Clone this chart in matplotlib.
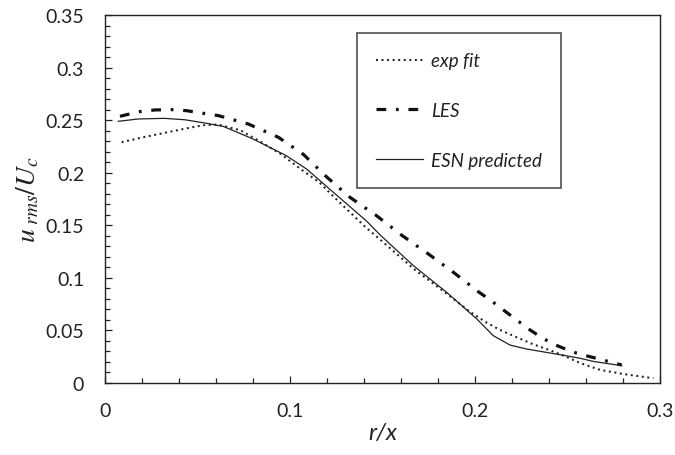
import matplotlib
matplotlib.use("Agg")
import matplotlib.pyplot as plt
from matplotlib.ticker import MultipleLocator

# ---- data ----
exp_x = [0.009, 0.018, 0.027, 0.036, 0.045, 0.053, 0.061, 0.073, 0.084, 0.095,
         0.105, 0.116, 0.124, 0.141, 0.149, 0.167, 0.185, 0.197, 0.206, 0.2135,
         0.2225, 0.2315, 0.2405, 0.2495, 0.2568, 0.2676, 0.280, 0.2964]
exp_y = [0.229, 0.2327, 0.236, 0.2393, 0.2425, 0.2452, 0.2458, 0.2405, 0.2295, 0.2178,
         0.2045, 0.1905, 0.1765, 0.148, 0.136, 0.1084, 0.0846, 0.0680, 0.0577, 0.0505,
         0.0435, 0.0368, 0.0312, 0.0248, 0.0190, 0.0125, 0.0086, 0.0045]

les_x = [0.0081, 0.018, 0.027, 0.036, 0.0441, 0.0532, 0.0613, 0.0775, 0.0937, 0.1072,
         0.1198, 0.1324, 0.1468, 0.1604, 0.1748, 0.1883, 0.2018, 0.209, 0.2153, 0.2225,
         0.2297, 0.2369, 0.2442, 0.2523, 0.2586, 0.2685, 0.2793]
les_y = [0.2536, 0.258, 0.2597, 0.2600, 0.259, 0.2565, 0.2543, 0.2463, 0.2337, 0.2175,
         0.1960, 0.1766, 0.1591, 0.1405, 0.1227, 0.1053, 0.0868, 0.0780, 0.0695, 0.0600,
         0.0505, 0.0422, 0.0357, 0.0298, 0.0266, 0.0222, 0.0171]

esn_x = [0.0072, 0.018, 0.032, 0.043, 0.054, 0.064, 0.080, 0.098, 0.109, 0.1234,
         0.1414, 0.1486, 0.1667, 0.1847, 0.1919, 0.2009, 0.2099, 0.2189, 0.2279, 0.2387,
         0.2495, 0.2568, 0.264, 0.2793]
esn_y = [0.2489, 0.2511, 0.2517, 0.2504, 0.2473, 0.2440, 0.2321, 0.2162, 0.2035, 0.1814,
         0.1540, 0.1410, 0.1116, 0.0862, 0.0751, 0.0610, 0.0450, 0.0361, 0.0323, 0.0291,
         0.0258, 0.0235, 0.0205, 0.0165]

labels = ["exp fit", "LES", "ESN predicted"]

plt.rcParams['font.family'] = ['Lato', 'DejaVu Sans']
plt.rcParams['mathtext.fontset'] = 'stix'
plt.rcParams['lines.scale_dashes'] = False

fig = plt.figure(figsize=(6.75, 4.56), dpi=100)
ax = fig.add_axes([105/675, (456-384)/456, (660-105)/675, (384-16)/456])

ax.plot(exp_x, exp_y, color='#222222', lw=1.5, dashes=(1.4, 2.6), dash_capstyle='butt',
        label=labels[0])
ax.plot(les_x, les_y, color='#111111', lw=2.3, dashes=(7, 7, 2, 7), label=labels[1])
ax.plot(esn_x, esn_y, color='#222222', lw=0.9, label=labels[2])

ax.set_xlim(0, 0.3)
ax.set_ylim(0, 0.35)
ax.xaxis.set_major_locator(MultipleLocator(0.1))
ax.xaxis.set_minor_locator(MultipleLocator(0.02))
ax.yaxis.set_major_locator(MultipleLocator(0.05))
ax.yaxis.set_minor_locator(MultipleLocator(0.01))
ax.tick_params(which='both', direction='in', color='#222222', width=0.9)
ax.tick_params(which='major', length=5, labelsize=14, colors='#222222')
ax.tick_params(which='minor', length=3.5)
ax.tick_params(axis='y', which='major', pad=15)
ax.tick_params(axis='x', which='major', pad=14)
ax.xaxis.set_major_formatter(plt.FuncFormatter(lambda v, p: f"{v:g}"))
ax.yaxis.set_major_formatter(plt.FuncFormatter(lambda v, p: f"{v:g}"))
for s in ax.spines.values():
    s.set_linewidth(1.0)
    s.set_color('#222222')

ax.set_xlabel("r/x", fontsize=17, style='italic', labelpad=2, color='#222222')
ax.set_ylabel(r"$u_{\ rms}/U_c$", fontsize=20, labelpad=3, color='#222222')

leg = ax.legend(loc='upper left', bbox_to_anchor=(0.454, 0.95), borderaxespad=0,
                prop={'style': 'italic', 'size': 13.5},
                frameon=True, fancybox=False, edgecolor='#222222',
                labelspacing=1.75, handlelength=2.5, handletextpad=0.45,
                borderpad=1.0)
leg.get_frame().set_linewidth(1.2)
for t in leg.get_texts():
    t.set_color('#222222')

fig.savefig("out.png", dpi=100)
